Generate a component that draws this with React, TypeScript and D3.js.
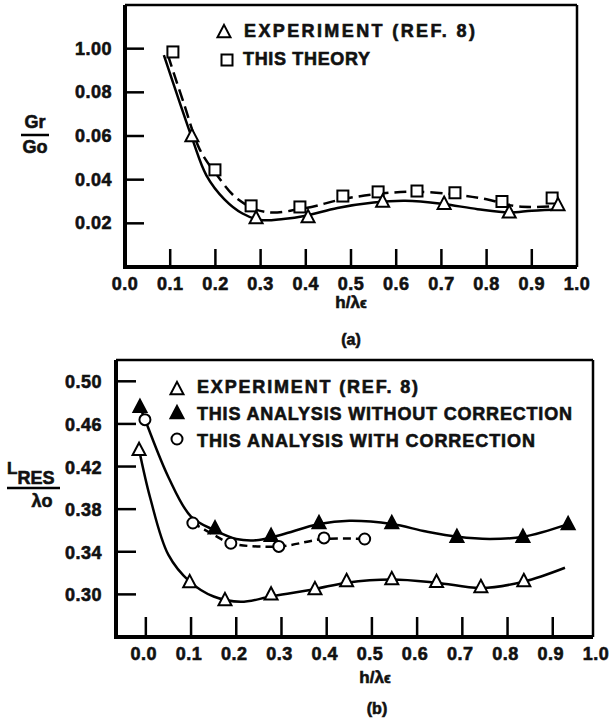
import * as d3 from "d3"

// ---- panel (a): Gr/Go vs h/λε ----
const xTicksA = [0.1, 0.2, 0.3, 0.4, 0.5, 0.6, 0.7, 0.8, 0.9]
const xLabels = ["0.0", "0.1", "0.2", "0.3", "0.4", "0.5", "0.6", "0.7", "0.8", "0.9", "1.0"]
const yTicksA = [0.02, 0.04, 0.06, 0.08, 0.1]
const yLabelsA = ["0.02", "0.04", "0.06", "0.08", "1.00"]

// experiment (ref. 8), open triangles
const expA: [number, number][] = [
  [0.148, 0.06], [0.29, 0.0224], [0.405, 0.0229], [0.57, 0.03],
  [0.706, 0.029], [0.85, 0.025], [0.958, 0.0284],
]
// this theory, open squares
const theoryA: [number, number][] = [
  [0.106, 0.0985], [0.199, 0.0445], [0.279, 0.028], [0.387, 0.0275], [0.482, 0.0325],
  [0.56, 0.0344], [0.646, 0.0348], [0.73, 0.034], [0.834, 0.03], [0.945, 0.0316],
]
// fitted curves
const expCurveA: [number, number][] = [
  [0.086, 0.097], [0.12, 0.076], [0.15, 0.058], [0.18, 0.042], [0.22, 0.031],
  [0.26, 0.0245], [0.3, 0.0215], [0.35, 0.022], [0.4, 0.0235], [0.47, 0.027],
  [0.55, 0.0295], [0.62, 0.0303], [0.7, 0.029], [0.78, 0.0265], [0.85, 0.025],
  [0.9, 0.0258], [0.97, 0.0265],
]
const theoryCurveA: [number, number][] = [
  [0.095, 0.097], [0.13, 0.075], [0.165, 0.054], [0.2, 0.043], [0.25, 0.031],
  [0.31, 0.0252], [0.4, 0.027], [0.48, 0.031], [0.56, 0.0335], [0.64, 0.0345],
  [0.73, 0.0332], [0.8, 0.031], [0.86, 0.028], [0.9, 0.0275], [0.96, 0.028],
]

// ---- panel (b): L_RES/λo vs h/λε ----
const xTicksB = [0.0, 0.1, 0.2, 0.3, 0.4, 0.5, 0.6, 0.7, 0.8, 0.9]
const yTicksB = [0.3, 0.34, 0.38, 0.42, 0.46, 0.5]
const yLabelsB = ["0.30", "0.34", "0.38", "0.42", "0.46", "0.50"]

const expB: [number, number][] = [
  [-0.015, 0.4356], [0.097, 0.3116], [0.175, 0.2947], [0.277, 0.3], [0.374, 0.305],
  [0.444, 0.3126], [0.544, 0.3144], [0.643, 0.3118], [0.741, 0.307], [0.836, 0.3126],
]
const noCorrB: [number, number][] = [
  [-0.013, 0.476], [0.153, 0.362], [0.277, 0.355], [0.383, 0.367],
  [0.544, 0.367], [0.688, 0.354], [0.834, 0.354], [0.934, 0.366],
]
const withCorrB: [number, number][] = [
  [-0.002, 0.464], [0.104, 0.367], [0.188, 0.348], [0.294, 0.345], [0.394, 0.353], [0.484, 0.352],
]
const expCurveB: [number, number][] = [
  [-0.015, 0.436], [0.01, 0.39], [0.05, 0.337], [0.097, 0.312], [0.15, 0.298],
  [0.21, 0.293], [0.277, 0.298], [0.374, 0.305], [0.444, 0.311], [0.544, 0.314],
  [0.643, 0.311], [0.741, 0.306], [0.836, 0.312], [0.927, 0.325],
]
const noCorrCurveB: [number, number][] = [
  [-0.013, 0.476], [0.0, 0.462], [0.05, 0.41], [0.1, 0.373], [0.153, 0.36],
  [0.2, 0.352], [0.25, 0.351], [0.3, 0.356], [0.383, 0.366], [0.45, 0.369],
  [0.544, 0.366], [0.62, 0.359], [0.69, 0.354], [0.76, 0.352], [0.834, 0.354], [0.934, 0.366],
]
const withCorrCurveB: [number, number][] = [
  [0.104, 0.367], [0.15, 0.356], [0.188, 0.348], [0.294, 0.345], [0.394, 0.352], [0.484, 0.352],
]

const FONT = "'Liberation Sans', Arial, Helvetica, sans-serif"
// heavy, slightly inked look of the scanned lettering
const ink = { fontFamily: FONT, fontWeight: 700, fill: "#111", stroke: "#111", strokeWidth: 0.6 }

function Triangle({ x, y, filled }: { x: number; y: number; filled?: boolean }) {
  const s = 13
  return (
    <path
      d={`M${x},${y - s * 0.55}L${x + s / 2},${y + s * 0.4}L${x - s / 2},${y + s * 0.4}Z`}
      fill={filled ? "#000" : "#fff"}
      stroke="#000"
      strokeWidth={2}
    />
  )
}

function Square({ x, y }: { x: number; y: number }) {
  const s = 11
  return <rect x={x - s / 2} y={y - s / 2} width={s} height={s} fill="#fff" stroke="#000" strokeWidth={2} />
}

function Circle({ x, y }: { x: number; y: number }) {
  return <circle cx={x} cy={y} r={5.5} fill="#fff" stroke="#000" strokeWidth={2} />
}

export default function App() {
  // panel (a) scales
  const xA = d3.scaleLinear().domain([0, 1]).range([125, 577])
  const yA = d3.scaleLinear().domain([0, 0.12]).range([267, 5])
  const lineA = d3.line<[number, number]>()
    .x(d => xA(d[0]))
    .y(d => yA(d[1]))
    .curve(d3.curveCatmullRom.alpha(0.5))

  // panel (b) scales
  const xB = d3.scaleLinear().domain([-0.066, 0.989]).range([116, 593])
  const yB = d3.scaleLinear().domain([0.26, 0.52]).range([637, 360])
  const lineB = d3.line<[number, number]>()
    .x(d => xB(d[0]))
    .y(d => yB(d[1]))
    .curve(d3.curveCatmullRom.alpha(0.5))

  const [ax0, ax1] = xA.range()
  const [ay0, ay1] = yA.range()
  const [bx0, bx1] = xB.range()
  const [by0, by1] = yB.range()

  const tickText = { ...ink, fontSize: 18, letterSpacing: 0.5 }
  const legText = { ...ink, fontSize: 18 }

  return (
    <svg
      width={610}
      height={720}
      style={{ position: "absolute", left: 0, top: 0, background: "#fff" }}
    >
      <rect width={610} height={720} fill="#fff" />

      {/* ---------- (a) ---------- */}
      <g>
        <line x1={ax0} x2={ax0} y1={ay1} y2={ay0 + 2} stroke="#000" strokeWidth={4} />
        <line x1={ax0} x2={ax1} y1={ay0} y2={ay0} stroke="#000" strokeWidth={4} />
        <line x1={ax0} x2={ax1} y1={ay1} y2={ay1} stroke="#000" strokeWidth={2.5} />
        <line x1={ax1} x2={ax1} y1={ay1} y2={ay0} stroke="#000" strokeWidth={2.5} />

        {yTicksA.map((t, i) => (
          <g key={"ya" + i}>
            <line x1={ax0} x2={ax0 + 19} y1={yA(t)} y2={yA(t)} stroke="#000" strokeWidth={2.5} />
            <text x={112} y={yA(t) + 6} textAnchor="end" {...tickText}>{yLabelsA[i]}</text>
          </g>
        ))}
        {xTicksA.map((t, i) => (
          <line key={"xa" + i} x1={xA(t)} x2={xA(t)} y1={ay0} y2={ay0 - 18} stroke="#000" strokeWidth={2.5} />
        ))}
        {xLabels.map((l, i) => (
          <text key={"xla" + i} x={xA(i / 10)} y={290} textAnchor="middle" {...tickText}>{l}</text>
        ))}

        <text x={351} y={308} textAnchor="middle" {...ink} fontSize={17}>
          h/λ<tspan fontSize={14}>ϵ</tspan>
        </text>
        <text x={351} y={345} textAnchor="middle" {...ink} fontSize={16}>(a)</text>
        <text x={35} y={128} textAnchor="middle" {...ink} fontSize={18}>Gr</text>
        <line x1={21} x2={49} y1={135} y2={135} stroke="#000" strokeWidth={2.5} />
        <text x={35} y={153} textAnchor="middle" {...ink} fontSize={18}>Go</text>

        <path d={lineA(expCurveA) ?? ""} fill="none" stroke="#000" strokeWidth={2.5} />
        <path d={lineA(theoryCurveA) ?? ""} fill="none" stroke="#000" strokeWidth={2.5} strokeDasharray="12,6" />

        {theoryA.map((d, i) => <Square key={"sq" + i} x={xA(d[0])} y={yA(d[1])} />)}
        {expA.map((d, i) => <Triangle key={"ta" + i} x={xA(d[0])} y={yA(d[1])} />)}

        {/* legend */}
        <Triangle x={224} y={32} />
        <text x={244} y={37} textLength={231} lengthAdjust="spacing" {...legText}>EXPERIMENT  (REF. 8)</text>
        <Square x={227} y={60} />
        <text x={243} y={65} textLength={127} lengthAdjust="spacing" {...legText}>THIS THEORY</text>
      </g>

      {/* ---------- (b) ---------- */}
      <g>
        <line x1={bx0} x2={bx0} y1={by1} y2={by0 + 2} stroke="#000" strokeWidth={4} />
        <line x1={bx0} x2={bx1} y1={by0} y2={by0} stroke="#000" strokeWidth={4} />
        <line x1={bx0} x2={bx1} y1={by1} y2={by1} stroke="#000" strokeWidth={2.5} />
        <line x1={bx1} x2={bx1} y1={by1} y2={by0} stroke="#000" strokeWidth={2.5} />

        {yTicksB.map((t, i) => (
          <g key={"yb" + i}>
            <line x1={bx0} x2={bx0 + 20} y1={yB(t)} y2={yB(t)} stroke="#000" strokeWidth={2.5} />
            <text x={102} y={yB(t) + 7} textAnchor="end" {...tickText}>{yLabelsB[i]}</text>
          </g>
        ))}
        {xTicksB.map((t, i) => (
          <line key={"xb" + i} x1={xB(t)} x2={xB(t)} y1={by0} y2={by0 - 20} stroke="#000" strokeWidth={2.5} />
        ))}
        {xLabels.map((l, i) => (
          <text key={"xlb" + i} x={xB(i / 10) - 2} y={660} textAnchor="middle" {...tickText}>{l}</text>
        ))}

        <text x={375} y={683} textAnchor="middle" {...ink} fontSize={17}>
          h/λ<tspan fontSize={14}>ϵ</tspan>
        </text>
        <text x={377} y={714} textAnchor="middle" {...ink} fontSize={16}>(b)</text>

        {/* L_RES / λo */}
        <text x={7} y={474} {...ink} fontSize={17}>
          L<tspan dy={10} fontSize={18}>RES</tspan>
        </text>
        <line x1={7} x2={60} y1={488} y2={488} stroke="#000" strokeWidth={2.5} />
        <text x={42} y={507} textAnchor="middle" {...ink} fontSize={18}>λo</text>

        <path d={lineB(expCurveB) ?? ""} fill="none" stroke="#000" strokeWidth={2.5} />
        <path d={lineB(noCorrCurveB) ?? ""} fill="none" stroke="#000" strokeWidth={2.5} />
        <path d={lineB(withCorrCurveB) ?? ""} fill="none" stroke="#000" strokeWidth={2.5} strokeDasharray="8,5" />

        {expB.map((d, i) => <Triangle key={"eb" + i} x={xB(d[0])} y={yB(d[1])} />)}
        {noCorrB.map((d, i) => <Triangle key={"nb" + i} x={xB(d[0])} y={yB(d[1])} filled />)}
        {withCorrB.map((d, i) => <Circle key={"cb" + i} x={xB(d[0])} y={yB(d[1])} />)}

        {/* legend */}
        <Triangle x={177} y={389} />
        <text x={197} y={393} textLength={221} lengthAdjust="spacing" {...legText}>EXPERIMENT  (REF. 8)</text>
        <Triangle x={177} y={413} filled />
        <text x={197} y={420} textLength={375} lengthAdjust="spacing" {...legText}>THIS ANALYSIS WITHOUT CORRECTION</text>
        <Circle x={177} y={439} />
        <text x={197} y={447} textLength={338} lengthAdjust="spacing" {...legText}>THIS ANALYSIS WITH CORRECTION</text>
      </g>
    </svg>
  )
}
